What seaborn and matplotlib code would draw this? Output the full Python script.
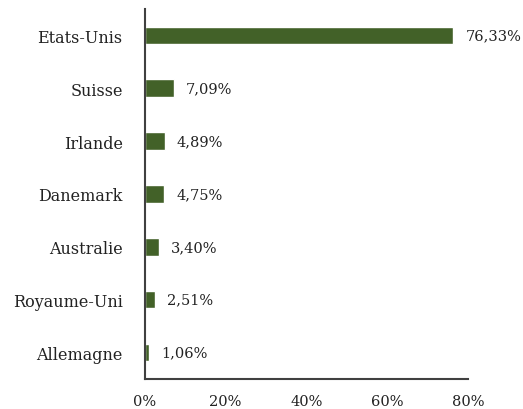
import matplotlib
matplotlib.use("Agg")
import matplotlib.pyplot as plt
import seaborn as sns
import pandas as pd

countries = ["Etats-Unis", "Suisse", "Irlande", "Danemark", "Australie", "Royaume-Uni", "Allemagne"]
values = [76.33, 7.09, 4.89, 4.75, 3.40, 2.51, 1.06]
xticks = [0, 20, 40, 60, 80]
xtick_labels = ["0%", "20%", "40%", "60%", "80%"]

sns.set_theme(style="white")
plt.rcParams['font.family'] = ['DejaVu Serif']

df = pd.DataFrame({"pays": countries, "val": values})

fig = plt.figure(figsize=(5.23, 4.10), dpi=100)
ax = fig.add_axes([0.277, 0.073, 0.618, 0.903])
sns.barplot(data=df, x="val", y="pays", orient="h", color="#426128",
            saturation=1, width=0.33, ax=ax)

for i, v in enumerate(values):
    ax.text(v + 3.0, i, f"{v:.2f}".replace('.', ',') + "%", va="center", ha="left",
            fontsize=10.5, color="#222222")

ax.set_xlim(0, 80)
ax.set_ylim(6.5, -0.5)
ax.set_xticks(xticks)
ax.set_xticklabels(xtick_labels, fontsize=10.5, color="#222222")
ax.tick_params(axis='y', labelsize=11.5, labelcolor="#222222", length=0, pad=16)
ax.tick_params(axis='x', length=0, pad=11)
ax.set_xlabel("")
ax.set_ylabel("")
for s in ["top", "right"]:
    ax.spines[s].set_visible(False)
for s in ["left", "bottom"]:
    ax.spines[s].set_color("#404040")
    ax.spines[s].set_linewidth(1.5)

fig.savefig("out.png", dpi=100)
